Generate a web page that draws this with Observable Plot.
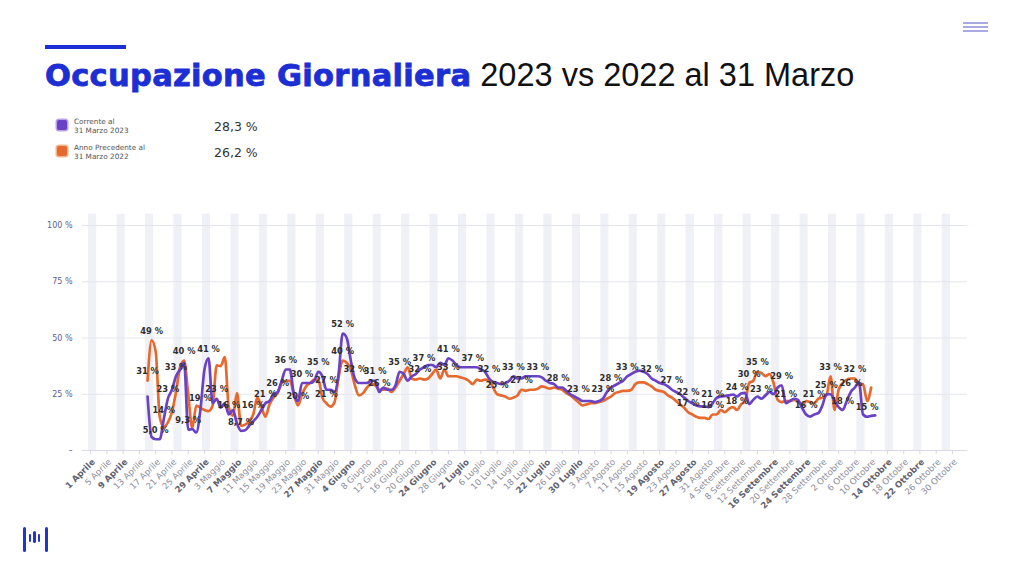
<!DOCTYPE html>
<html><head><meta charset="utf-8">
<script src="https://cdn.jsdelivr.net/npm/d3@7"></script>
<script src="https://cdn.jsdelivr.net/npm/@observablehq/plot@0.6"></script>
<style>
html,body{margin:0;padding:0;background:#fff;}
#page{position:relative;width:1024px;height:576px;overflow:hidden;background:#fff;font-family:"Liberation Sans",Arial,sans-serif;}
.abs{position:absolute;}
#bar{left:45px;top:45px;width:81px;height:4px;background:#1b2fd4;}
#title{left:45px;top:55px;white-space:nowrap;font-size:32.5px;line-height:40px;}
#title .b{font-family:"DejaVu Sans",sans-serif;font-weight:bold;color:#1b2fd4;font-size:30.5px;letter-spacing:0.3px;-webkit-text-stroke:0.8px #1b2fd4;}
#title .r{font-family:"Liberation Sans",Arial,sans-serif;color:#111;margin-left:9px;}
.sw{width:10px;height:10px;border-radius:2px;}
.lt{font-family:"DejaVu Sans",sans-serif;font-size:7.3px;line-height:9px;color:#555;}
.lv{font-family:"DejaVu Sans",sans-serif;font-size:12.5px;color:#333;}
.ic{height:2px;background:#a9a9e6;width:25px;left:963px;}
.lg{background:#2233d0;border-radius:1.5px;}
#chart{left:0;top:200px;}
</style></head>
<body><div id="page">
<div id="bar" class="abs"></div>
<div id="title" class="abs"><span class="b">Occupazione Giornaliera</span><span class="r">2023 vs 2022 al 31 Marzo</span></div>
<div id="legend"></div>
<div class="abs ic" style="top:22px"></div>
<div class="abs ic" style="top:26px"></div>
<div class="abs ic" style="top:30px"></div>
<div class="abs lg" style="left:23px;top:527px;width:3px;height:25px"></div>
<div class="abs lg" style="left:29px;top:534px;width:2px;height:8px"></div>
<div class="abs lg" style="left:33px;top:531px;width:3px;height:12px"></div>
<div class="abs lg" style="left:38px;top:534px;width:2px;height:8px"></div>
<div class="abs lg" style="left:45px;top:527px;width:3px;height:25px"></div>
<div id="chart" class="abs"></div>
</div>
<script>
// ---- data ----
const startYear = 2023;           // day 0 = 1 Aprile 2023
const mesi = ["Aprile","Maggio","Giugno","Luglio","Agosto","Settembre","Ottobre"];
const totalDays = 214;            // 1 Aprile .. 31 Ottobre
const tickStep = 4;
const firstDay = 14;              // first day with data (15 Aprile)

const seriesNames = ["Corrente al\n31 Marzo 2023", "Anno Precedente al\n31 Marzo 2022"];
const seriesTotals = ["28,3 %", "26,2 %"];
const seriesColors = ["#6a42c6", "#e8692d"];

const corrente2023 = [
 24,6,5.0,5,14,23,27,33,36,39,9.3,9.5,8,18,36,41,21,23,19,21,
 16,18,12,8.7,9,11,13,15,18,21,22,25,26,31,36,36,25,22,30,30,
 30,31,35,33,27,27,26,34,52,50,40,32,30,30,30,31,31,26,28,27,
 27,29,35,34,31,33,34,36,37,38,38,37,39,38,41,40,38,37,37,37,
 37,37,36,35,32,30.5,30,29.5,30,31,33,32,32,33,33,33,33,32.5,31,30,
 29.5,28,28,26.5,25,24,23,22,22,22,21.5,22,23,26,28,29,30,31,33,34,
 35,35.5,35,34,32,31,30,29.5,28.5,27,26,25,23.5,22,21,20,19.6,19.6,19.3,21,
 23.4,24,24.2,24.5,24.9,24,25.3,25.6,20.7,22.5,24,23,24.5,26,25,28,29,21,22,23,
 22.5,19,16,15.1,16,16.6,20,25,25,22,19.3,18,22,26,28,30.4,16,15,15.4,15.6
];
const precedente2022 = [
 31,49,44,15,10.5,12.5,17,26,37,40,25,10,20,19,18,17.5,20,37.8,37.5,41.5,
 19,15.5,25.5,11,11.5,13,16,23.5,19.5,15,20.5,23.5,25.5,30,31,31,25,20,25,28.5,
 30,31.5,31.5,23.5,21,19.5,21.5,32.6,40,39,36,29,24.5,25.5,28,29.5,29,27,27,27.5,
 26,28,31,34,37,32,31.5,32,31.5,32,34,36,32,36,33,33,33,32.5,32,31,
 29.5,31.5,31,31.5,31,28,25,24.5,24,23,23.5,24.5,27,26.5,27,27,27.5,28.5,28,27.5,
 28,27.5,27,25.5,24.5,23,21.5,20,20.5,21,21,21.5,22,23,24,25.5,26,26.5,26.5,27,
 29.5,30.3,30.3,29.5,28.5,27,26.5,26,24.5,23.5,22,20.5,19,17,16,15,14.5,14.5,14,16,
 16,18,17,18.5,19.3,18,20.5,22,30,31,35,34.5,33,34,30,22.5,21.5,22,22,22.5,
 22,20,22,21.5,21,23,23.5,24.5,33,18,27,30,31.5,32,32,29,29.5,22,28
];
// days (index from 1 Aprile) where a value label is shown
const labelDays2023 = [16,18,19,21,24,29,31,34,37,43,46,48,52,56,58,62,65,70,71,76,82,88,94,98,104,110,115,120,126,128,132,138,143,147,153,159,165,170,171,176,181,185,187,191];
const labelDays2022 = [14,15,23,27,40,51,58,62,81,88,100,106,147,153,159,162,164,178,182,188];
const yTicks = [0,25,50,75,100];

// ---- helpers ----
const dateOf = d => new Date(Date.UTC(startYear, 3, 1 + d));
const rows = arr => arr.map((v, i) => ({d: firstDay + i, v}));
const r2023 = rows(corrente2023), r2022 = rows(precedente2022);
const fmtPct = v => (v < 10 ? v.toFixed(1).replace(".", ",") : Math.round(v)) + " %";
const labelRows = (arr, days) => days.map(d => ({d, v: arr[d - firstDay]}));
const lab = labelRows(corrente2023, labelDays2023).concat(labelRows(precedente2022, labelDays2022));

const allDays = d3.range(totalDays);
const weekendStarts = allDays.filter(d => dateOf(d).getUTCDay() === 6);
const tickDays = d3.range(0, totalDays - 1, tickStep);
const isWeekend = d => { const w = dateOf(d).getUTCDay(); return w === 0 || w === 6; };
const tickText = d => { const t = dateOf(d); return t.getUTCDate() + " " + mesi[t.getUTCMonth() - 3]; };

// ---- legend ----
const leg = document.getElementById("legend");
seriesNames.forEach((n, i) => {
  const top = 119 + i * 26;
  leg.insertAdjacentHTML("beforeend",
    `<div class="abs sw" style="left:57px;top:${top + 1}px;background:${seriesColors[i]};box-shadow:0 0 0 1.5px ${i ? "#f2b48e" : "#b9a3ea"}"></div>` +
    `<div class="abs lt" style="left:74px;top:${top - 2}px">${n.replace("\n", "<br>")}</div>` +
    `<div class="abs lv" style="left:214px;top:${top}px">${seriesTotals[i]}</div>`);
});

// ---- chart ----
const font = "DejaVu Sans, sans-serif";
const chart = Plot.plot({
  width: 1024, height: 310,
  marginLeft: 82, marginRight: 57, marginTop: 25, marginBottom: 60,
  x: {domain: [-2, 215.7], axis: null, label: null},
  y: {domain: [0, 100], axis: null, label: null},
  style: {background: "transparent", overflow: "visible", fontFamily: font},
  marks: [
    Plot.rect(weekendStarts, {x1: d => d - 0.5, x2: d => d + 1.5, y1: () => 0, y2: () => 105, fill: "#f0f0f7"}),
    Plot.gridY(yTicks.filter(t => t > 0), {stroke: "#e4e4ee", strokeOpacity: 1}),
    Plot.ruleY([0], {stroke: "#d9d9ea"}),
    Plot.axisY({ticks: yTicks, tickSize: 0, tickPadding: 10, fontSize: 8, fill: "#5d5d8e", label: null,
      tickFormat: d => d === 0 ? "–" : d + " %"}),
    Plot.axisX({ticks: tickDays, tickSize: 4, stroke: "#d6d6e8", label: null, tickFormat: () => ""}),
    Plot.text(tickDays.filter(d => !isWeekend(d)), {x: d => d, y: () => 0, text: tickText,
      rotate: -45, textAnchor: "end", dy: 10, dx: 3, fontSize: 8.6, fill: "#8e8e9a", fontFamily: font}),
    Plot.text(tickDays.filter(isWeekend), {x: d => d, y: () => 0, text: tickText,
      rotate: -45, textAnchor: "end", dy: 10, dx: 3, fontSize: 8.6, fontWeight: "bold", fill: "#62626e", fontFamily: font}),
    Plot.line(r2022, {x: "d", y: "v", stroke: seriesColors[1], strokeWidth: 2.7, curve: "monotone-x"}),
    Plot.line(r2023, {x: "d", y: "v", stroke: seriesColors[0], strokeWidth: 2.7, curve: "monotone-x"}),
    Plot.text(lab, {x: "d", y: "v", text: d => fmtPct(d.v), dy: -9, fontSize: 8.3, fontWeight: "bold", fill: "#2e2e2e", fontFamily: font})
  ]
});
document.getElementById("chart").appendChild(chart);
</script>
</body></html>
